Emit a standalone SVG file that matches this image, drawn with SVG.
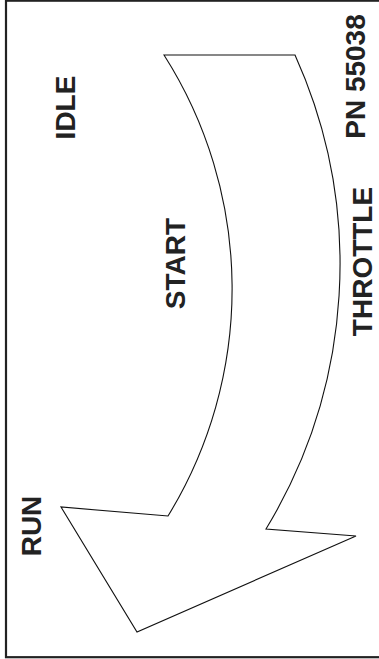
<svg xmlns="http://www.w3.org/2000/svg" width="379" height="659" viewBox="0 0 379 659">
<style>
.lbl{font-family:"Liberation Sans",Arial,sans-serif;font-weight:bold;font-size:28px;fill:#222;text-anchor:middle}
</style>
<rect width="379" height="659" fill="#fff"/>
<rect x="6" y="0.7" width="400" height="656.5" fill="none" stroke="#222" stroke-width="2.2"/>
<g id="connectors">
<path id="arrow" d="M164,55 L295,55 A509.7,509.7 0 0 1 266,529 L356,536 L137,632 L61,507 L168,516 A435,435 0 0 0 164,55 Z" fill="#fff" stroke="#111" stroke-width="1.1" stroke-linejoin="miter"/>
</g>
<g id="idle"><text class="lbl" x="75" y="107.5" transform="rotate(-90 75 107.5)">IDLE</text></g>
<g id="pn"><text class="lbl" x="365" y="76.5" transform="rotate(-90 365 76.5)">PN 55038</text></g>
<g id="start"><text class="lbl" x="185" y="263.5" transform="rotate(-90 185 263.5)">START</text></g>
<g id="throttle"><text class="lbl" x="372" y="261.5" transform="rotate(-90 372 261.5)">THROTTLE</text></g>
<g id="run"><text class="lbl" x="41" y="526" transform="rotate(-90 41 526)">RUN</text></g>
</svg>
